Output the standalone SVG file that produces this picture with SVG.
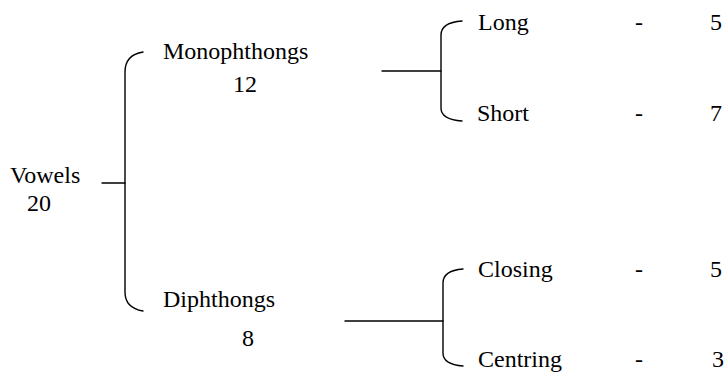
<svg xmlns="http://www.w3.org/2000/svg" width="727" height="377" viewBox="0 0 727 377" font-family="'Liberation Serif', 'DejaVu Serif', serif">
  <style>
    text { font-family: 'Liberation Serif', 'Times New Roman', 'DejaVu Serif', serif; font-size: 24px; fill: #000; }
    .link { fill: none; stroke: #000; stroke-width: 1.4; stroke-linecap: round; }
  </style>
  <rect width="727" height="377" fill="#fff"/>

  <!-- brackets and joining lines -->
  <g id="connectors">
    <path class="link" d="M102,183 H125"/>
    <path class="link" d="M143,52 C131,54 125,61 125,72 L125,292 C125,303 131,309 143,311"/>
    <path class="link" d="M382,71 H441"/>
    <path class="link" d="M462,21 C449,22 441,26 441,35 L441,108 C441,116 448,120 462,121"/>
    <path class="link" d="M345,321 H443"/>
    <path class="link" d="M463,269 C450,270 443,274 443,283 L443,353 C443,361 450,365 463,366"/>
  </g>

  <g id="vowels">
    <text x="10" y="183">Vowels</text>
    <text x="27" y="211">20</text>
  </g>

  <g id="monophthongs">
    <text x="163" y="59">Monophthongs</text>
    <text x="233" y="92">12</text>
  </g>

  <g id="diphthongs">
    <text x="163" y="307">Diphthongs</text>
    <text x="242" y="346">8</text>
  </g>

  <g id="long">
    <text x="478" y="30">Long</text>
    <text x="635" y="30">-</text>
    <text x="710" y="30">5</text>
  </g>

  <g id="short">
    <text x="477" y="121">Short</text>
    <text x="635" y="121">-</text>
    <text x="710" y="121">7</text>
  </g>

  <g id="closing">
    <text x="478" y="277">Closing</text>
    <text x="635" y="277">-</text>
    <text x="710" y="277">5</text>
  </g>

  <g id="centring">
    <text x="478" y="367">Centring</text>
    <text x="635" y="367">-</text>
    <text x="712" y="367">3</text>
  </g>
</svg>
